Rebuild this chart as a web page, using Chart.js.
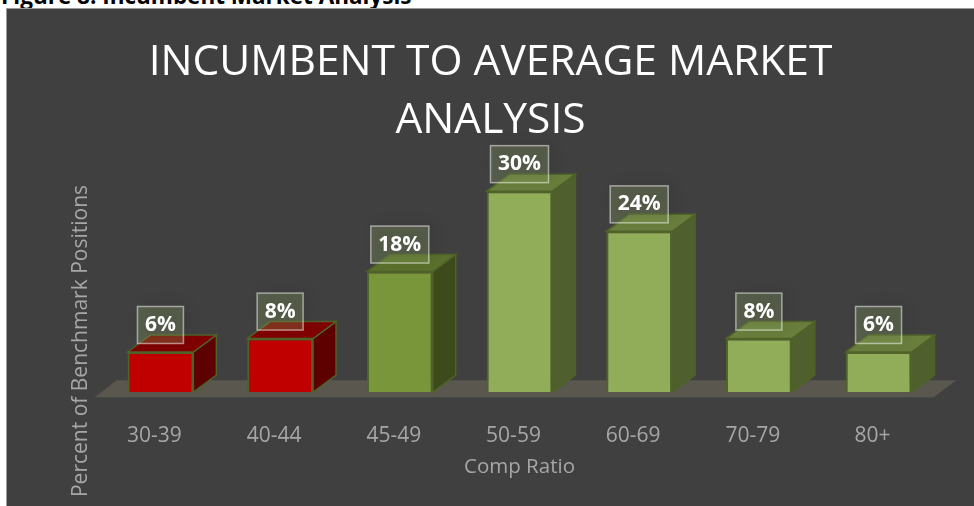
<!DOCTYPE html>
<html>
<head>
<meta charset="utf-8">
<title>Incumbent Market Analysis</title>
<script src="https://cdn.jsdelivr.net/npm/chart.js@4/dist/chart.umd.min.js"></script>
<style>
  html, body { margin: 0; padding: 0; width: 974px; height: 506px; overflow: hidden; background: #fff; }
  #caption { position: absolute; left: 1px; top: -20px; font: bold 22.5px "Open Sans", sans-serif; color: #000; white-space: nowrap; }
  #wrap { position: absolute; left: 6px; top: 8px; width: 968px; height: 498px; background: #404040; border: 1px solid #9a9a9a; border-right: 0; border-bottom: 0; box-sizing: border-box; }
  canvas { display: block; }
</style>
</head>
<body>
<div id="caption">Figure 8: Incumbent Market Analysis</div>
<div id="wrap"><canvas id="chart" width="967" height="497"></canvas></div>
<script>
const categories = ['30-39', '40-44', '45-49', '50-59', '60-69', '70-79', '80+'];
const percents = [6, 8, 18, 30, 24, 8, 6];
const titleLines = ['INCUMBENT TO AVERAGE MARKET', 'ANALYSIS'];
const yTitle = 'Percent of Benchmark Positions';
const xTitle = 'Comp Ratio';

const frontColors = ['#c00000', '#c00000', '#7a963b', '#92ad59', '#92ad59', '#92ad59', '#92ad59'];
const sideColors = ['#5c0000', '#5c0000', '#3c4a1c', '#4f5f2d', '#4f5f2d', '#4f5f2d', '#4f5f2d'];
const topColors = ['#7f0000', '#7f0000', '#5a702c', '#697e3c', '#697e3c', '#697e3c', '#697e3c'];
const edgeColor = '#4f6228';

// depth of the fake 3D boxes, in pixels
const DX = 23;
const DY = 17;

// Floor, box sides and box tops go under the bars
const boxes3d = {
    id: 'boxes3d',
    beforeDatasetsDraw(chart) {
        const { ctx, chartArea } = chart;
        const base = chart.scales.y.getPixelForValue(0);
        const bars = chart.getDatasetMeta(0).data;

        ctx.save();
        ctx.fillStyle = '#5a574f';
        ctx.beginPath();
        ctx.moveTo(chartArea.left - 6, base + 5);
        ctx.lineTo(chartArea.left + 16, base - 12);
        ctx.lineTo(chartArea.right + 18, base - 12);
        ctx.lineTo(chartArea.right - 5, base + 5);
        ctx.closePath();
        ctx.fill();

        ctx.strokeStyle = edgeColor;
        ctx.lineWidth = 1.5;
        bars.forEach((bar, i) => {
            const l = bar.x - bar.width / 2;
            const r = bar.x + bar.width / 2;
            ctx.fillStyle = sideColors[i];
            ctx.beginPath();
            ctx.moveTo(r, bar.y);
            ctx.lineTo(r + DX, bar.y - DY);
            ctx.lineTo(r + DX, base - DY);
            ctx.lineTo(r, base);
            ctx.closePath();
            ctx.fill();
            ctx.stroke();

            ctx.fillStyle = topColors[i];
            ctx.beginPath();
            ctx.moveTo(l, bar.y);
            ctx.lineTo(l + DX, bar.y - DY);
            ctx.lineTo(r + DX, bar.y - DY);
            ctx.lineTo(r, bar.y);
            ctx.closePath();
            ctx.fill();
            ctx.stroke();
        });
        ctx.restore();
    },
    afterDatasetsDraw(chart) {
        const { ctx } = chart;
        const bars = chart.getDatasetMeta(0).data;

        ctx.save();
        bars.forEach((bar, i) => {
            const w = percents[i] < 10 ? 46 : 58;
            const h = 37;
            const cy = bar.y - 27;
            const x = bar.x - w / 2;
            const y = cy - h / 2;

            // soft shadow only, kept outside the box so it does not grey the fill
            ctx.save();
            ctx.shadowColor = 'rgba(0,0,0,0.3)';
            ctx.shadowBlur = 14;
            ctx.shadowOffsetX = 5;
            ctx.shadowOffsetY = -3;
            ctx.fillStyle = 'rgba(145,170,100,0.28)';
            ctx.fillRect(x, y, w, h);
            ctx.restore();

            ctx.strokeStyle = 'rgba(255,255,255,0.5)';
            ctx.lineWidth = 1.5;
            ctx.strokeRect(x, y, w, h);

            ctx.fillStyle = '#fff';
            ctx.font = 'bold 21px "Open Sans", sans-serif';
            ctx.textAlign = 'center';
            ctx.textBaseline = 'middle';
            ctx.fillText(percents[i] + '%', bar.x, cy);
        });

        // y title sits lower than the middle of the plot, so place it by hand
        ctx.translate(74, 332);
        ctx.rotate(-Math.PI / 2);
        ctx.fillStyle = '#a6a6a6';
        ctx.font = '21px "Open Sans", sans-serif';
        ctx.textAlign = 'center';
        ctx.textBaseline = 'middle';
        ctx.fillText(yTitle, 0, 0);
        ctx.restore();
    }
};

new Chart(document.getElementById('chart'), {
    type: 'bar',
    data: {
        labels: categories,
        datasets: [{
            data: percents,
            backgroundColor: frontColors,
            borderColor: edgeColor,
            borderWidth: 2,
            barPercentage: 0.55,
            categoryPercentage: 1
        }]
    },
    options: {
        responsive: false,
        animation: false,
        layout: { padding: { left: 35.6, right: 35.6, top: 25, bottom: 27 } },
        plugins: {
            legend: { display: false },
            tooltip: { enabled: false },
            title: {
                display: true,
                text: titleLines,
                color: '#ffffff',
                font: { family: '"Open Sans", sans-serif', size: 42.5, weight: 'normal', lineHeight: 1.36 },
                padding: { top: 0, bottom: 0 }
            }
        },
        scales: {
            x: {
                grid: { display: false, tickLength: 29 },
                border: { display: false },
                ticks: { color: '#a6a6a6', font: { family: '"Open Sans", sans-serif', size: 21 }, padding: 2, maxRotation: 0, labelOffset: -6 },
                title: { display: true, text: xTitle, color: '#a6a6a6', font: { family: '"Open Sans", sans-serif', size: 20.5 }, padding: { top: 4, bottom: 0 } }
            },
            y: {
                min: 0,
                max: 36.2,
                grid: { display: false },
                border: { display: false },
                ticks: { display: false },
                afterFit(scale) { scale.width = 58; }
            }
        }
    },
    plugins: [boxes3d]
});
</script>
</body>
</html>
